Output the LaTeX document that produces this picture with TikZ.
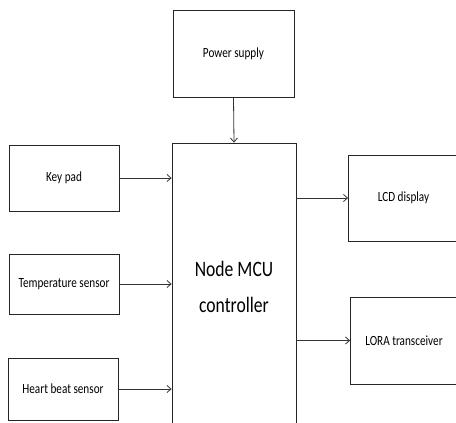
\documentclass[tikz,border=0pt]{standalone}
\usepackage{fontspec}
\newfontfamily\blockfont[FakeStretch=0.8]{Carlito}
\usetikzlibrary{arrows.meta,positioning}
\tikzset{>={Straight Barb[length=4pt,width=7pt]},line width=.8pt,
  every node/.style={font=\blockfont\fontsize{14}{17}\selectfont},
  wire/.style={->,draw=black!80,line width=.8pt},
  bigtext/.style={font=\blockfont\fontsize{22}{36}\selectfont}}
\begin{document}
\begin{tikzpicture}[x=1pt,y=-1pt,block/.style={draw=black!85,line width=.8pt,minimum width=110pt,minimum height=66pt,align=center,inner sep=0pt}]
\useasboundingbox (0,0) rectangle (456,423);
\clip (0,0) rectangle (456,423);
\fill[white] (0,0) rectangle (456,423);
\node[block,minimum width=121pt,minimum height=87pt] (power) at (233.5,53.5) {Power supply};
\node[block,bigtext,minimum width=124pt,minimum height=288pt] (mcu) at (234,287) {Node MCU\\controller};
\node[block] (keypad) at (64,178) {Key pad};
\node[block,minimum height=60pt] (temp) at (64,284) {Temperature sensor};
\node[block,minimum height=62pt] (heart) at (63,389) {Heart beat sensor};
\node[block,minimum height=86pt] (lcd) at (403.5,198) {LCD display};
\node[block,minimum width=107pt,minimum height=87pt] (lora) at (404,340.5) {LORA transceiver};
% sensors and supply feed the controller, outputs go right
\draw[wire] (power.south)--(mcu.north);
\draw[wire] (keypad.east)--(keypad.east -| mcu.west);
\draw[wire] (temp.east)--(temp.east -| mcu.west);
\draw[wire] (heart.east)--(heart.east -| mcu.west);
\draw[wire] (lcd.west -| mcu.east)--(lcd.west);
\draw[wire] (lora.west -| mcu.east)--(lora.west);
\end{tikzpicture}
\end{document}
